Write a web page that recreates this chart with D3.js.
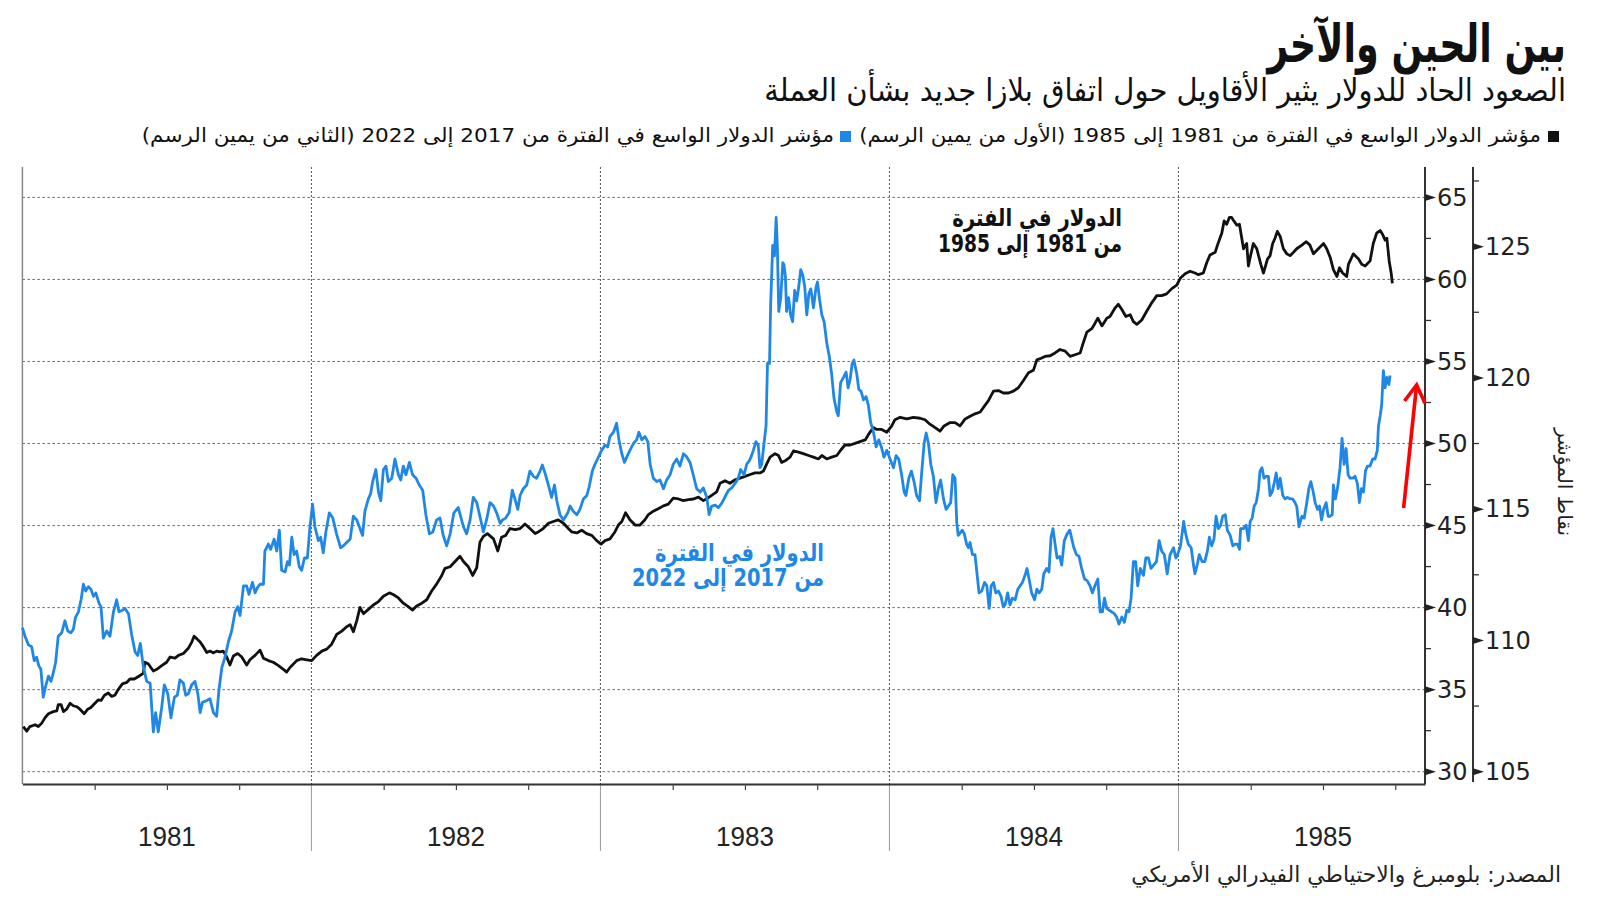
<!DOCTYPE html>
<html><head><meta charset="utf-8">
<script src="https://cdn.jsdelivr.net/npm/d3@7"></script>
<style>
html,body{margin:0;padding:0;background:#fff;}
svg{display:block;}
</style></head><body>
<svg id="c" width="1600" height="901"></svg>
<script>
// ---------- texts ----------
const titleText = "بين الحين والآخر";
const subtitleText = "الصعود الحاد للدولار يثير الأقاويل حول اتفاق بلازا جديد بشأن العملة";
const legendLabels = [
  "مؤشر الدولار الواسع في الفترة من 1981 إلى 1985 (الأول من يمين الرسم)",
  "مؤشر الدولار الواسع في الفترة من 2017 إلى 2022 (الثاني من يمين الرسم)"
];
const seriesColors = ["#111111", "#1f87e5"];
const blackNote = ["الدولار في الفترة", "من 1981 إلى 1985"];
const blueNote = ["الدولار في الفترة", "من 2017 إلى 2022"];
const axisTitle = "نقاط المؤشر";
const sourceText = "المصدر: بلومبرغ والاحتياطي الفيدرالي الأمريكي";

// ---------- ticks ----------
const yearLabels = [1981, 1982, 1983, 1984, 1985];
const leftTicks = [30, 35, 40, 45, 50, 55, 60, 65];
const leftMinor = [32.5, 37.5, 42.5, 47.5, 52.5, 57.5, 62.5];
const rightTicks = [105, 110, 115, 120, 125];
const rightMinor = [107.5, 112.5, 117.5, 122.5, 127.5];

// ---------- data: broad dollar index 1981-1985 (decimal year, index) ----------
const black1981 = [
[1981.003,32.75],[1981.015,32.47],[1981.026,32.75],[1981.044,32.86],[1981.055,32.75],[1981.067,32.96],[1981.078,33.28],[1981.090,33.53],
[1981.107,33.66],[1981.119,33.70],[1981.124,34.08],[1981.134,34.08],[1981.142,33.66],[1981.153,33.81],[1981.165,34.17],[1981.176,34.02],
[1981.188,33.96],[1981.199,33.81],[1981.214,33.53],[1981.226,33.81],[1981.237,33.91],[1981.251,34.17],[1981.263,34.38],[1981.272,34.34],
[1981.284,34.66],[1981.297,34.80],[1981.309,34.59],[1981.320,34.66],[1981.332,35.02],[1981.346,35.35],[1981.361,35.44],[1981.372,35.65],
[1981.387,35.65],[1981.403,35.82],[1981.418,35.99],[1981.424,36.67],[1981.436,36.56],[1981.453,36.14],[1981.465,36.24],[1981.482,36.46],
[1981.499,36.67],[1981.511,36.99],[1981.528,36.92],[1981.540,37.09],[1981.557,37.20],[1981.574,37.52],[1981.586,37.90],[1981.594,38.26],
[1981.603,38.11],[1981.615,37.90],[1981.626,37.62],[1981.638,37.26],[1981.649,37.35],[1981.661,37.24],[1981.672,37.35],[1981.684,37.30],
[1981.695,37.35],[1981.707,36.99],[1981.718,36.50],[1981.730,37.05],[1981.745,37.20],[1981.759,36.99],[1981.776,36.50],[1981.788,36.84],
[1981.805,37.09],[1981.822,37.41],[1981.834,36.92],[1981.851,36.77],[1981.868,36.67],[1981.886,36.46],[1981.903,36.24],[1981.914,36.07],
[1981.926,36.35],[1981.949,36.77],[1981.966,36.88],[1981.984,36.82],[1982.001,36.77],[1982.018,37.09],[1982.036,37.35],[1982.053,37.47],
[1982.070,37.77],[1982.087,38.36],[1982.105,38.57],[1982.122,38.83],[1982.134,38.96],[1982.145,38.53],[1982.157,39.21],[1982.168,40.01],
[1982.180,39.63],[1982.197,39.89],[1982.214,40.16],[1982.232,40.37],[1982.249,40.69],[1982.270,40.90],[1982.283,40.80],[1982.301,40.59],
[1982.318,40.27],[1982.335,40.06],[1982.350,39.85],[1982.364,40.10],[1982.382,40.27],[1982.399,40.48],[1982.416,41.01],[1982.433,41.43],
[1982.451,41.96],[1982.462,42.39],[1982.480,42.49],[1982.497,42.81],[1982.514,43.13],[1982.526,42.81],[1982.543,42.49],[1982.558,41.96],
[1982.572,42.43],[1982.583,43.98],[1982.595,44.34],[1982.609,44.51],[1982.630,44.19],[1982.645,43.45],[1982.658,44.29],[1982.672,44.40],
[1982.687,44.82],[1982.705,44.76],[1982.722,44.82],[1982.739,45.10],[1982.756,44.82],[1982.774,44.51],[1982.785,44.61],[1982.802,44.82],
[1982.820,45.14],[1982.837,45.25],[1982.854,45.35],[1982.872,45.14],[1982.889,44.82],[1982.901,44.61],[1982.918,44.55],[1982.935,44.72],
[1982.952,44.51],[1982.970,44.40],[1982.987,44.08],[1983.002,43.87],[1983.016,44.08],[1983.033,44.19],[1983.050,44.61],[1983.062,45.03],
[1983.074,45.25],[1983.087,45.78],[1983.102,45.35],[1983.120,45.03],[1983.137,45.03],[1983.154,45.35],[1983.166,45.67],[1983.183,45.88],
[1983.200,46.03],[1983.218,46.20],[1983.235,46.31],[1983.252,46.67],[1983.270,46.62],[1983.287,46.52],[1983.304,46.58],[1983.322,46.62],
[1983.339,46.73],[1983.356,46.52],[1983.371,46.67],[1983.385,46.84],[1983.402,47.05],[1983.414,47.58],[1983.431,47.73],[1983.448,47.58],
[1983.466,47.79],[1983.483,47.89],[1983.500,48.00],[1983.518,48.11],[1983.535,48.21],[1983.552,48.21],[1983.564,48.32],[1983.575,48.74],
[1983.587,49.17],[1983.604,49.38],[1983.616,49.27],[1983.627,48.85],[1983.639,48.95],[1983.656,49.17],[1983.668,49.55],[1983.685,49.48],
[1983.702,49.38],[1983.720,49.27],[1983.737,49.17],[1983.754,49.06],[1983.766,49.27],[1983.783,49.06],[1983.800,49.17],[1983.818,49.27],
[1983.831,49.59],[1983.846,49.91],[1983.864,49.91],[1983.881,50.01],[1983.898,50.12],[1983.916,50.22],[1983.927,50.54],[1983.944,50.97],
[1983.956,50.86],[1983.973,50.86],[1983.991,50.69],[1984.008,51.07],[1984.019,51.45],[1984.037,51.60],[1984.060,51.50],[1984.083,51.60],
[1984.106,51.54],[1984.123,51.45],[1984.140,51.18],[1984.158,50.97],[1984.175,50.75],[1984.189,51.07],[1984.210,51.28],[1984.227,51.28],
[1984.244,51.07],[1984.262,51.50],[1984.279,51.66],[1984.296,51.81],[1984.314,51.92],[1984.331,52.34],[1984.342,52.60],[1984.360,53.19],
[1984.377,53.23],[1984.394,53.08],[1984.412,53.08],[1984.429,53.19],[1984.446,53.40],[1984.463,53.83],[1984.481,54.31],[1984.498,54.46],
[1984.510,55.10],[1984.525,55.20],[1984.538,55.31],[1984.556,55.35],[1984.573,55.52],[1984.590,55.73],[1984.608,55.63],[1984.625,55.31],
[1984.642,55.41],[1984.660,55.52],[1984.671,56.16],[1984.683,56.79],[1984.700,57.00],[1984.711,57.32],[1984.721,57.64],[1984.735,57.17],
[1984.752,57.64],[1984.763,57.74],[1984.781,58.27],[1984.792,58.49],[1984.804,58.17],[1984.818,57.74],[1984.833,57.85],[1984.844,57.43],
[1984.856,57.26],[1984.873,57.53],[1984.890,58.06],[1984.908,58.59],[1984.925,59.01],[1984.942,59.01],[1984.959,59.12],[1984.977,59.44],
[1984.994,59.65],[1985.006,60.07],[1985.023,60.35],[1985.040,60.50],[1985.057,60.39],[1985.069,60.29],[1985.086,60.39],[1985.098,61.03],
[1985.109,61.49],[1985.127,61.66],[1985.135,62.09],[1985.150,62.83],[1985.158,63.57],[1985.167,63.36],[1985.176,63.78],[1985.184,63.78],
[1985.190,63.61],[1985.202,63.31],[1985.211,63.36],[1985.219,62.51],[1985.225,61.87],[1985.236,62.19],[1985.242,60.82],[1985.248,61.34],
[1985.259,62.19],[1985.271,61.87],[1985.277,61.45],[1985.285,60.92],[1985.294,60.39],[1985.308,61.24],[1985.317,61.45],[1985.326,62.19],
[1985.334,62.51],[1985.342,62.93],[1985.352,62.62],[1985.363,61.87],[1985.375,61.56],[1985.386,61.45],[1985.398,61.66],[1985.409,61.87],
[1985.427,62.09],[1985.442,62.30],[1985.455,62.09],[1985.467,61.56],[1985.484,61.87],[1985.502,62.19],[1985.513,61.87],[1985.525,61.34],
[1985.536,60.60],[1985.548,60.18],[1985.557,60.71],[1985.568,60.39],[1985.582,60.18],[1985.588,60.92],[1985.605,61.56],[1985.623,61.24],
[1985.634,60.92],[1985.646,60.82],[1985.663,61.13],[1985.674,62.19],[1985.686,62.83],[1985.698,62.98],[1985.707,62.72],[1985.715,62.40],
[1985.721,62.51],[1985.729,61.13],[1985.736,60.39],[1985.740,59.76]
];

// ---------- data: broad dollar index 2017-2022 (decimal year, index) ----------
const blue2017 = [
[2017.610,110.49],[2017.619,110.16],[2017.631,109.83],[2017.642,109.76],[2017.651,109.23],[2017.659,109.36],[2017.667,109.03],[2017.674,108.90],
[2017.682,107.84],[2017.690,108.24],[2017.700,108.64],[2017.709,108.44],[2017.717,108.77],[2017.725,109.17],[2017.734,110.16],[2017.746,110.29],
[2017.757,110.75],[2017.767,110.36],[2017.778,110.29],[2017.786,110.42],[2017.794,110.89],[2017.804,111.09],[2017.813,111.55],[2017.821,112.14],
[2017.829,111.88],[2017.838,112.05],[2017.847,111.95],[2017.856,111.68],[2017.864,111.81],[2017.875,111.42],[2017.882,111.28],[2017.890,110.09],
[2017.902,110.36],[2017.913,110.16],[2017.925,111.09],[2017.936,111.55],[2017.944,111.09],[2017.956,111.15],[2017.965,111.22],[2017.977,111.02],
[2017.988,110.22],[2018.000,109.56],[2018.009,109.43],[2018.018,109.89],[2018.028,109.03],[2018.040,108.44],[2018.052,108.37],[2018.063,106.52],
[2018.071,107.25],[2018.080,106.52],[2018.092,107.45],[2018.101,108.31],[2018.113,107.97],[2018.124,107.05],[2018.136,107.84],[2018.146,107.91],
[2018.155,108.50],[2018.167,108.37],[2018.175,107.91],[2018.184,107.97],[2018.196,108.31],[2018.207,108.44],[2018.217,107.97],[2018.225,107.25],
[2018.233,107.64],[2018.248,107.71],[2018.259,107.78],[2018.271,107.25],[2018.282,107.11],[2018.290,108.11],[2018.300,108.97],[2018.311,109.36],
[2018.323,109.96],[2018.334,110.36],[2018.346,111.09],[2018.355,111.28],[2018.363,110.95],[2018.375,112.08],[2018.386,112.08],[2018.394,111.75],
[2018.406,112.21],[2018.415,111.81],[2018.423,112.01],[2018.432,112.14],[2018.444,112.14],[2018.449,113.40],[2018.461,113.67],[2018.469,113.47],
[2018.481,113.86],[2018.490,113.40],[2018.499,114.20],[2018.507,112.67],[2018.519,112.61],[2018.527,113.00],[2018.534,112.87],[2018.542,113.93],
[2018.550,113.27],[2018.559,113.40],[2018.568,112.81],[2018.576,112.67],[2018.586,113.14],[2018.596,113.14],[2018.605,114.33],[2018.614,115.19],
[2018.622,114.33],[2018.634,113.80],[2018.642,113.93],[2018.651,113.34],[2018.660,114.13],[2018.672,114.86],[2018.684,114.66],[2018.697,114.06],
[2018.711,113.53],[2018.720,113.60],[2018.732,113.73],[2018.744,113.86],[2018.755,114.73],[2018.767,114.59],[2018.778,114.26],[2018.787,114.00],
[2018.795,114.92],[2018.807,115.39],[2018.815,115.59],[2018.822,116.05],[2018.833,116.51],[2018.842,115.65],[2018.850,115.32],[2018.859,116.51],
[2018.868,116.64],[2018.876,116.05],[2018.888,116.18],[2018.899,116.91],[2018.911,116.31],[2018.919,116.11],[2018.928,116.64],[2018.937,116.31],
[2018.949,116.78],[2018.960,116.31],[2018.972,116.18],[2018.983,115.92],[2018.995,115.72],[2019.006,114.79],[2019.018,114.06],[2019.030,114.13],
[2019.043,114.59],[2019.055,114.66],[2019.066,114.00],[2019.078,113.60],[2019.090,114.06],[2019.103,114.86],[2019.118,115.06],[2019.136,114.33],
[2019.147,114.06],[2019.159,114.59],[2019.170,115.45],[2019.182,115.25],[2019.193,114.73],[2019.205,114.13],[2019.216,114.59],[2019.228,115.25],
[2019.240,115.12],[2019.251,114.86],[2019.263,114.46],[2019.271,114.59],[2019.282,114.66],[2019.294,114.86],[2019.305,115.72],[2019.314,115.39],
[2019.324,114.99],[2019.332,115.52],[2019.343,115.78],[2019.355,115.92],[2019.366,116.45],[2019.378,116.25],[2019.389,116.18],[2019.401,116.45],
[2019.409,116.68],[2019.418,116.38],[2019.430,115.92],[2019.441,115.45],[2019.451,115.92],[2019.459,115.32],[2019.470,114.79],[2019.482,114.59],
[2019.497,114.86],[2019.505,115.12],[2019.516,114.92],[2019.528,114.79],[2019.539,114.99],[2019.551,115.39],[2019.563,115.52],[2019.571,115.85],
[2019.582,116.45],[2019.591,116.71],[2019.603,116.98],[2019.614,117.24],[2019.626,117.44],[2019.635,117.37],[2019.643,117.77],[2019.655,117.93],
[2019.666,118.27],[2019.674,117.64],[2019.684,117.11],[2019.693,116.78],[2019.701,116.98],[2019.712,117.24],[2019.724,117.50],[2019.735,117.64],
[2019.743,117.93],[2019.753,117.64],[2019.764,117.77],[2019.774,117.57],[2019.782,116.71],[2019.793,116.18],[2019.805,116.05],[2019.816,116.11],
[2019.828,115.78],[2019.839,116.11],[2019.851,116.31],[2019.862,116.71],[2019.874,116.91],[2019.885,116.64],[2019.897,117.11],[2019.908,117.00],
[2019.920,116.78],[2019.931,116.31],[2019.943,115.78],[2019.955,115.65],[2019.966,115.81],[2019.978,115.45],[2019.986,114.79],[2019.995,115.12],
[2020.007,115.15],[2020.018,115.06],[2020.030,115.23],[2020.053,115.72],[2020.064,115.81],[2020.076,115.98],[2020.087,116.18],[2020.095,116.51],
[2020.107,116.31],[2020.116,116.71],[2020.125,116.84],[2020.133,117.04],[2020.139,117.24],[2020.148,117.57],[2020.156,117.44],[2020.162,116.58],
[2020.168,116.71],[2020.176,117.50],[2020.183,118.17],[2020.188,120.55],[2020.195,120.55],[2020.199,122.80],[2020.206,125.05],[2020.212,124.65],
[2020.218,126.11],[2020.222,125.05],[2020.227,122.53],[2020.234,123.06],[2020.241,124.39],[2020.245,124.32],[2020.250,123.86],[2020.254,122.53],
[2020.261,123.06],[2020.268,122.40],[2020.275,122.14],[2020.282,123.33],[2020.289,122.93],[2020.296,123.46],[2020.303,124.12],[2020.310,123.92],
[2020.317,123.46],[2020.324,122.40],[2020.331,123.20],[2020.338,123.39],[2020.347,122.67],[2020.356,123.46],[2020.361,123.66],[2020.368,123.00],
[2020.376,122.40],[2020.384,122.14],[2020.393,121.34],[2020.402,120.81],[2020.410,120.15],[2020.418,119.23],[2020.428,118.70],[2020.433,118.56],
[2020.441,119.82],[2020.451,120.02],[2020.460,120.22],[2020.467,119.62],[2020.474,119.95],[2020.481,120.55],[2020.487,120.68],[2020.497,120.15],
[2020.504,119.56],[2020.512,119.49],[2020.520,119.16],[2020.529,119.29],[2020.537,118.96],[2020.545,118.30],[2020.554,117.97],[2020.564,117.37],
[2020.573,117.64],[2020.582,117.37],[2020.591,116.98],[2020.601,117.24],[2020.612,116.91],[2020.624,116.58],[2020.633,117.04],[2020.642,116.91],
[2020.652,116.31],[2020.661,115.65],[2020.667,115.52],[2020.677,116.18],[2020.686,116.45],[2020.695,116.05],[2020.704,115.52],[2020.714,115.32],
[2020.722,116.45],[2020.730,117.50],[2020.737,117.90],[2020.745,117.50],[2020.753,116.71],[2020.762,116.25],[2020.771,115.25],[2020.779,115.78],
[2020.787,116.11],[2020.797,115.39],[2020.806,114.99],[2020.814,115.12],[2020.822,115.25],[2020.829,116.31],[2020.837,116.18],[2020.843,114.46],
[2020.848,114.00],[2020.862,114.20],[2020.869,114.06],[2020.877,113.67],[2020.883,113.53],[2020.889,113.73],[2020.897,113.27],[2020.906,113.27],
[2020.913,112.54],[2020.920,111.81],[2020.929,111.88],[2020.939,112.21],[2020.947,112.08],[2020.955,111.22],[2020.962,112.08],[2020.970,112.21],
[2020.978,111.81],[2020.987,111.88],[2020.996,111.68],[2021.004,111.28],[2021.010,111.35],[2021.019,111.81],[2021.027,111.35],[2021.035,111.61],
[2021.045,111.55],[2021.054,111.95],[2021.062,112.08],[2021.070,112.21],[2021.079,112.48],[2021.086,112.74],[2021.093,112.34],[2021.102,111.81],
[2021.112,111.55],[2021.120,111.95],[2021.128,111.81],[2021.137,111.95],[2021.144,112.54],[2021.154,112.74],[2021.162,112.61],[2021.169,113.93],
[2021.176,114.26],[2021.183,113.67],[2021.190,113.14],[2021.199,113.20],[2021.206,112.87],[2021.215,113.80],[2021.225,114.06],[2021.234,114.20],
[2021.241,113.86],[2021.248,113.53],[2021.257,113.27],[2021.266,113.20],[2021.275,112.74],[2021.285,112.34],[2021.294,112.28],[2021.304,112.08],
[2021.312,111.81],[2021.321,112.08],[2021.331,112.34],[2021.339,111.09],[2021.347,111.09],[2021.354,111.61],[2021.362,111.22],[2021.370,111.15],
[2021.379,111.09],[2021.388,111.02],[2021.396,110.89],[2021.404,110.62],[2021.414,110.89],[2021.423,110.69],[2021.431,111.15],[2021.439,111.09],
[2021.446,111.61],[2021.454,113.00],[2021.462,113.00],[2021.469,112.08],[2021.478,112.74],[2021.489,112.48],[2021.497,113.14],[2021.506,113.14],
[2021.515,112.74],[2021.524,112.87],[2021.534,113.00],[2021.543,113.80],[2021.552,113.40],[2021.561,113.27],[2021.571,112.54],[2021.581,113.27],
[2021.593,113.53],[2021.601,113.14],[2021.607,113.27],[2021.617,113.60],[2021.628,114.53],[2021.635,114.06],[2021.644,113.67],[2021.654,113.53],
[2021.662,112.87],[2021.667,112.54],[2021.676,112.94],[2021.682,113.27],[2021.692,113.00],[2021.701,113.00],[2021.710,113.40],[2021.717,113.93],
[2021.725,113.60],[2021.733,113.86],[2021.740,114.73],[2021.748,114.26],[2021.756,114.39],[2021.763,114.73],[2021.772,114.79],[2021.779,114.20],
[2021.789,114.00],[2021.798,113.60],[2021.806,113.67],[2021.814,113.67],[2021.821,113.47],[2021.825,114.26],[2021.835,114.26],[2021.844,114.39],
[2021.852,113.80],[2021.858,114.53],[2021.865,114.66],[2021.872,115.12],[2021.879,115.25],[2021.887,115.78],[2021.892,116.45],[2021.899,116.58],
[2021.906,116.18],[2021.913,116.25],[2021.921,116.25],[2021.927,115.52],[2021.934,115.65],[2021.941,115.98],[2021.948,116.38],[2021.955,115.78],
[2021.962,116.18],[2021.971,115.52],[2021.979,115.39],[2021.987,115.45],[2021.996,115.39],[2022.005,115.39],[2022.013,115.25],[2022.019,115.12],
[2022.027,114.33],[2022.037,114.73],[2022.045,114.66],[2022.054,115.25],[2022.061,115.78],[2022.068,116.05],[2022.075,115.72],[2022.083,115.25],
[2022.091,114.99],[2022.098,115.12],[2022.105,114.59],[2022.112,114.99],[2022.121,115.25],[2022.128,114.73],[2022.135,114.73],[2022.142,114.79],
[2022.146,115.92],[2022.153,115.39],[2022.161,115.85],[2022.169,116.58],[2022.176,117.70],[2022.183,116.71],[2022.190,117.31],[2022.197,116.31],
[2022.204,116.18],[2022.213,116.18],[2022.221,116.25],[2022.229,115.98],[2022.236,115.25],[2022.243,115.78],[2022.250,115.65],[2022.257,116.45],
[2022.264,116.64],[2022.273,116.64],[2022.282,116.91],[2022.290,116.91],[2022.298,117.24],[2022.302,118.17],[2022.308,118.56],[2022.313,118.96],
[2022.319,120.28],[2022.325,119.62],[2022.331,120.02],[2022.338,119.75],[2022.342,120.09]
];

// arrow annotation (decimal year on 1981 axis, left-axis value)
const arrowShaft = [[1985.779, 46.07], [1985.824, 53.57]];
const arrowHead = [[1985.782, 52.59], [1985.824, 53.57], [1985.853, 52.45]];

// ---------- layout ----------
const plotL = 22.4, plotR = 1425, plotT = 167, axisY = 784;
const yTop = 197.4, yBot = 771.7;
const rightAxisX = 1473;

const svg = d3.select("#c");
const x = d3.scaleLinear().domain([1981, 1985.853]).range([plotL, plotR]);
const xBlue = d3.scaleLinear().domain([2017.61, 2022.463]).range([plotL, plotR]);
const yL = d3.scaleLinear().domain([30, 65]).range([yBot, yTop]);
const yR = d3.scaleLinear().domain([105, 126.875]).range([yBot, yTop]);

const arabic = "'DejaVu Sans', 'Noto Sans', sans-serif";

function fitText(sel, right, width) {
  const b = sel.node().getBBox();
  const s = width ? width / b.width : 1;
  sel.attr("transform", `translate(${right},0) scale(${s},1) translate(${-(b.x + b.width)},0)`);
}
function arText(g, str, baseline, size, weight, fill) {
  return g.append("text").attr("x", 0).attr("y", baseline)
    .attr("font-family", arabic).attr("font-size", size).attr("font-weight", weight)
    .attr("fill", fill).style("direction", "rtl").style("unicode-bidi", "embed").text(str);
}

// ---------- gridlines ----------
const grid = svg.append("g");
grid.selectAll("line.h").data(leftTicks).join("line")
  .attr("x1", plotL).attr("x2", plotR).attr("y1", d => yL(d)).attr("y2", d => yL(d))
  .attr("stroke", "#6a6a6a").attr("stroke-width", 1).attr("stroke-dasharray", "2.5,2.5");
const yearBounds = yearLabels.slice(1);
grid.selectAll("line.v").data(yearBounds).join("line")
  .attr("x1", d => x(d)).attr("x2", d => x(d)).attr("y1", plotT).attr("y2", axisY)
  .attr("stroke", "#555").attr("stroke-width", 1).attr("stroke-dasharray", "2,2");
grid.selectAll("line.vb").data(yearBounds).join("line")
  .attr("x1", d => x(d)).attr("x2", d => x(d)).attr("y1", axisY).attr("y2", 851)
  .attr("stroke", "#9a9a9a").attr("stroke-width", 1);
grid.append("line").attr("x1", plotL).attr("x2", plotL).attr("y1", plotT).attr("y2", axisY)
  .attr("stroke", "#888").attr("stroke-width", 1.5);

// ---------- x axis ----------
const quarters = d3.range(1, 20).filter(i => i % 4 !== 0).map(i => 1981 + i / 4);
const xAxis = svg.append("g").attr("transform", `translate(0,${axisY})`)
  .call(d3.axisBottom(x).tickValues(quarters).tickSize(6).tickSizeOuter(0).tickFormat(""));
xAxis.select(".domain").attr("stroke", "#333").attr("stroke-width", 2);
xAxis.selectAll(".tick line").attr("stroke", "#444").attr("stroke-width", 1.2);

svg.append("g").selectAll("text").data(yearLabels).join("text")
  .attr("x", d => x(d + 0.5)).attr("y", 846).attr("text-anchor", "middle")
  .attr("font-family", "'Liberation Sans', Arial, sans-serif").attr("font-size", 28)
  .attr("fill", "#222").attr("transform", d => `translate(${x(d + 0.5)},0) scale(0.93,1) translate(${-x(d + 0.5)},0)`)
  .text(d => d);

// ---------- y axes ----------
function yAxis(scale, ticks, minor, ax, bottomEnd) {
  const g = svg.append("g").attr("transform", `translate(${ax},0)`);
  g.call(d3.axisRight(scale).tickValues(ticks).tickSize(0).tickPadding(12).tickFormat(d3.format("d")));
  g.select(".domain").remove();
  g.selectAll(".tick text").attr("font-family", "'DejaVu Sans', sans-serif").attr("font-size", 24)
    .attr("fill", "#222");
  g.append("line").attr("x1", 0).attr("x2", 0).attr("y1", plotT).attr("y2", bottomEnd)
    .attr("stroke", "#333").attr("stroke-width", 2);
  g.selectAll("path.tri").data(ticks).join("path").attr("class", "tri")
    .attr("d", d => `M0,${scale(d) - 3.5}L11,${scale(d)}L0,${scale(d) + 3.5}Z`).attr("fill", "#222");
  g.selectAll("line.minor").data(minor).join("line").attr("class", "minor")
    .attr("x1", 0).attr("x2", 6).attr("y1", d => scale(d)).attr("y2", d => scale(d))
    .attr("stroke", "#333").attr("stroke-width", 1.3);
}
yAxis(yL, leftTicks, leftMinor, plotR, axisY);
yAxis(yR, rightTicks, rightMinor, rightAxisX, 782);

svg.append("text").attr("font-family", arabic).attr("font-size", 20).attr("fill", "#222")
  .attr("text-anchor", "middle").style("direction", "rtl")
  .attr("transform", "translate(1558,482) rotate(90)").text(axisTitle);

// ---------- lines ----------
const lineB = d3.line().x(d => x(d[0])).y(d => yL(d[1]));
const lineU = d3.line().x(d => xBlue(d[0])).y(d => yR(d[1]));
svg.append("path").datum(black1981).attr("d", lineB).attr("fill", "none")
  .attr("stroke", seriesColors[0]).attr("stroke-width", 2.8).attr("stroke-linejoin", "round");
svg.append("path").datum(blue2017).attr("d", lineU).attr("fill", "none")
  .attr("stroke", seriesColors[1]).attr("stroke-width", 2.8).attr("stroke-linejoin", "round");

// arrow
const arrowLine = d3.line().x(d => x(d[0])).y(d => yL(d[1]));
svg.append("path").datum(arrowShaft).attr("d", arrowLine).attr("fill", "none")
  .attr("stroke", "#ff0000").attr("stroke-width", 3.6);
svg.append("path").datum(arrowHead).attr("d", arrowLine).attr("fill", "none")
  .attr("stroke", "#ff0000").attr("stroke-width", 3.6).attr("stroke-linejoin", "miter");

// ---------- annotations ----------
const notes = svg.append("g");
fitText(arText(notes, blackNote[0], 226, 24, "bold", "#111"), 1122, 170);
fitText(arText(notes, blackNote[1], 252, 24, "bold", "#111"), 1122, 184);
fitText(arText(notes, blueNote[0], 561, 24, "bold", seriesColors[1]), 824, 169);
fitText(arText(notes, blueNote[1], 586, 24, "bold", seriesColors[1]), 824, 192);

// ---------- header ----------
const head = svg.append("g");
fitText(arText(head, titleText, 62, 52, "bold", "#111"), 1566, 301);
fitText(arText(head, subtitleText, 101, 31, "normal", "#111"), 1566, 802);

const leg = svg.append("g");
leg.append("rect").attr("x", 1548).attr("y", 131).attr("width", 11).attr("height", 11).attr("fill", seriesColors[0]);
fitText(arText(leg, legendLabels[0], 142, 20, "normal", "#111"), 1541, 682);
leg.append("rect").attr("x", 840).attr("y", 131).attr("width", 11).attr("height", 11).attr("fill", seriesColors[1]);
fitText(arText(leg, legendLabels[1], 142, 20, "normal", "#111"), 834, 693);

fitText(arText(svg.append("g"), sourceText, 882, 22, "normal", "#222"), 1561, 430);
</script>
</body></html>
